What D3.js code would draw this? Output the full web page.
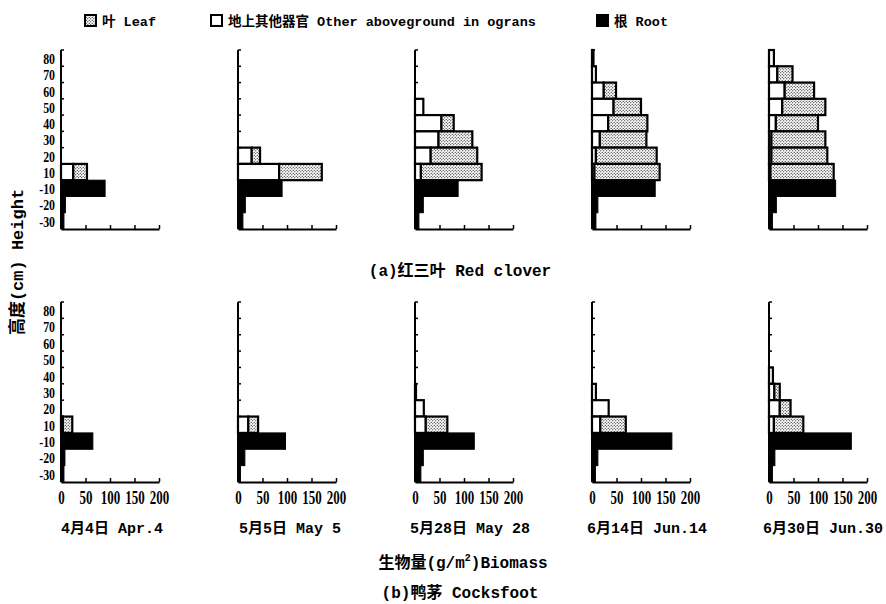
<!DOCTYPE html>
<html><head><meta charset="utf-8">
<script src="https://cdn.jsdelivr.net/npm/d3@7"></script>
<style>
body{margin:0;background:#fff}
text{fill:#000}
.lab{font-family:"Liberation Mono","Noto Sans CJK SC",monospace;font-weight:bold}
.num{font-family:"Liberation Serif","Noto Sans CJK SC",serif;font-weight:bold}
</style>
</head><body><svg id="c" width="886" height="604"></svg>
<script>
// ---------- data ----------
const levels = ["80","70","60","50","40","30","20","10","-10","-20","-30"];
const aboveLevels = ["80","70","60","50","40","30","20","10"];
const rootLevels = ["-10","-20","-30"];
const dates = ["4月4日 Apr.4","5月5日 May 5","5月28日 May 28","6月14日 Jun.14","6月30日 Jun.30"];
const xTicks = [0,50,100,150,200];
const legendLabels = ["叶 Leaf","地上其他器官 Other aboveground in ograns","根 Root"];
const rowTitles = ["(a)红三叶 Red clover","(b)鸭茅 Cocksfoot"];

// Red clover (a): values per date, aboveground levels 80..10
const cloverOther = [
  [0,0,0,0,0,0,0,25],
  [0,0,0,0,0,0,28,84],
  [0,0,0,17,54,48,32,12],
  [3,8,24,44,33,16,8,5],
  [10,17,32,27,14,5,5,3]
];
const cloverLeaf = [
  [0,0,0,0,0,0,0,28],
  [0,0,0,0,0,0,17,87],
  [0,0,0,0,25,69,95,124],
  [0,0,25,56,80,95,124,133],
  [0,31,60,88,86,110,114,129]
];
const cloverRoot = [
  [90,9,6],
  [90,15,10],
  [88,17,8],
  [129,12,8],
  [136,15,7]
];
// Cocksfoot (b)
const cocksOther = [
  [0,0,0,0,0,0,0,4],
  [0,0,0,0,0,0,0,21],
  [0,0,0,0,0,2,18,22],
  [0,0,0,0,0,8,34,17],
  [0,0,0,0,8,11,22,10]
];
const cocksLeaf = [
  [0,0,0,0,0,0,0,19],
  [0,0,0,0,0,0,0,20],
  [0,0,0,0,0,0,0,44],
  [0,0,0,0,0,0,0,52],
  [0,0,0,0,0,11,22,60]
];
const cocksRoot = [
  [65,8,6],
  [97,14,5],
  [121,17,12],
  [163,12,7],
  [168,12,7]
];

// ---------- layout ----------
const svg = d3.select("#c");
svg.append("rect").attr("width",886).attr("height",604).attr("fill","#fff");
const defs = svg.append("defs");
const pat = defs.append("pattern").attr("id","dots").attr("patternUnits","userSpaceOnUse")
  .attr("width",3).attr("height",3);
pat.append("rect").attr("width",3).attr("height",3).attr("fill","#fff");
pat.append("circle").attr("cx",0.75).attr("cy",0.75).attr("r",0.62).attr("fill","#000");
pat.append("circle").attr("cx",2.25).attr("cy",2.25).attr("r",0.62).attr("fill","#000");

const panelX = [61,238,415,592,769];
const dateX = [112,290,470,647,823];
const panelW = 98;
const rows = [
  {other:cloverOther, leaf:cloverLeaf, root:cloverRoot, top:50, bottom:229, labels:false, title:rowTitles[0], titleY:276},
  {other:cocksOther, leaf:cocksLeaf, root:cocksRoot, top:302, bottom:482, labels:true, title:rowTitles[1], titleY:598}
];

rows.forEach((row, ri) => {
  dates.forEach((dt, di) => {
    const ox = panelX[di];
    const x = d3.scaleLinear().domain([0,200]).range([ox, ox+panelW]);
    const y = d3.scaleBand().domain(levels).range([row.top, row.bottom]).padding(0);
    const g = svg.append("g");
    const bw = y.bandwidth();
    aboveLevels.forEach((lv, li) => {
      const o = row.other[di][li], l = row.leaf[di][li];
      if (o > 0) g.append("rect").attr("x", x(0)).attr("y", y(lv)).attr("width", x(o)-x(0)).attr("height", bw)
        .attr("fill","#fff").attr("stroke","#000").attr("stroke-width",2.2);
      if (l > 0) g.append("rect").attr("x", x(o)).attr("y", y(lv)).attr("width", x(o+l)-x(o)).attr("height", bw)
        .attr("fill","url(#dots)").attr("stroke","#000").attr("stroke-width",2.2);
    });
    rootLevels.forEach((lv, li) => {
      const r = row.root[di][li];
      if (r > 0) g.append("rect").attr("x", x(0)).attr("y", y(lv)).attr("width", x(r)-x(0)).attr("height", bw)
        .attr("fill","#000").attr("stroke","#000").attr("stroke-width",1);
    });
    // y axis
    g.append("line").attr("x1",ox).attr("x2",ox).attr("y1",row.top).attr("y2",row.bottom).attr("stroke","#000").attr("stroke-width",2);
    d3.range(levels.length).forEach(k => {
      const yy = row.top + k*bw;
      g.append("line").attr("x1",ox).attr("x2",ox+3).attr("y1",yy).attr("y2",yy).attr("stroke","#000").attr("stroke-width",1.5);
    });
    if (di === 0) {
      const ya = g.append("g").attr("transform",`translate(${ox},0)`)
        .call(d3.axisLeft(y).tickSize(0).tickPadding(7));
      ya.select(".domain").remove();
      ya.selectAll("text").attr("class","num").attr("font-size",14).attr("dy","0.42em")
        .attr("font-family",null).attr("transform","scale(0.85,1)");
    }
    // x axis
    const xa = g.append("g").attr("transform",`translate(0,${row.bottom})`)
      .call(d3.axisBottom(x).tickValues(xTicks).tickSizeInner(-4).tickSizeOuter(0).tickPadding(9)
        .tickFormat(row.labels ? d3.format("d") : () => ""));
    xa.select(".domain").attr("stroke-width",2);
    xa.selectAll(".tick line").attr("stroke-width",1.5);
    xa.selectAll("text").attr("class","num").attr("font-size",18).attr("font-family",null)
      .attr("transform","scale(0.72,1)");
    if (row.labels) {
      svg.append("text").attr("class","lab").attr("x", dateX[di]).attr("y", 533)
        .attr("text-anchor","middle").attr("font-size",15).text(dt);
    }
  });
  svg.append("text").attr("class","lab").attr("x", 460).attr("y", row.titleY)
    .attr("text-anchor","middle").attr("font-size",16).text(row.title);
});

// x title
const xt = svg.append("text").attr("class","lab").attr("x",463).attr("y",568).attr("text-anchor","middle").attr("font-size",16);
xt.append("tspan").text("生物量(g/m");
xt.append("tspan").attr("font-size",10).attr("dy",-7).text("2");
xt.append("tspan").attr("dy",7).text(")Biomass");

// y title
svg.append("text").attr("class","lab").attr("transform","translate(23,262) rotate(-90)")
  .attr("text-anchor","middle").attr("font-size",17).text("高度(cm) Height");

// legend
const lg = svg.append("g").attr("class","legend");
const legItems = [
  {x:85, fill:"url(#dots)", label:legendLabels[0]},
  {x:211, fill:"#fff", label:legendLabels[1]},
  {x:597, fill:"#000", label:legendLabels[2]}
];
legItems.forEach(it => {
  lg.append("rect").attr("x",it.x).attr("y",15).attr("width",11).attr("height",11)
    .attr("fill",it.fill).attr("stroke","#000").attr("stroke-width",2);
  lg.append("text").attr("class","lab").attr("x",it.x+17).attr("y",26).attr("font-size",13.5).text(it.label);
});
</script>
</body></html>
